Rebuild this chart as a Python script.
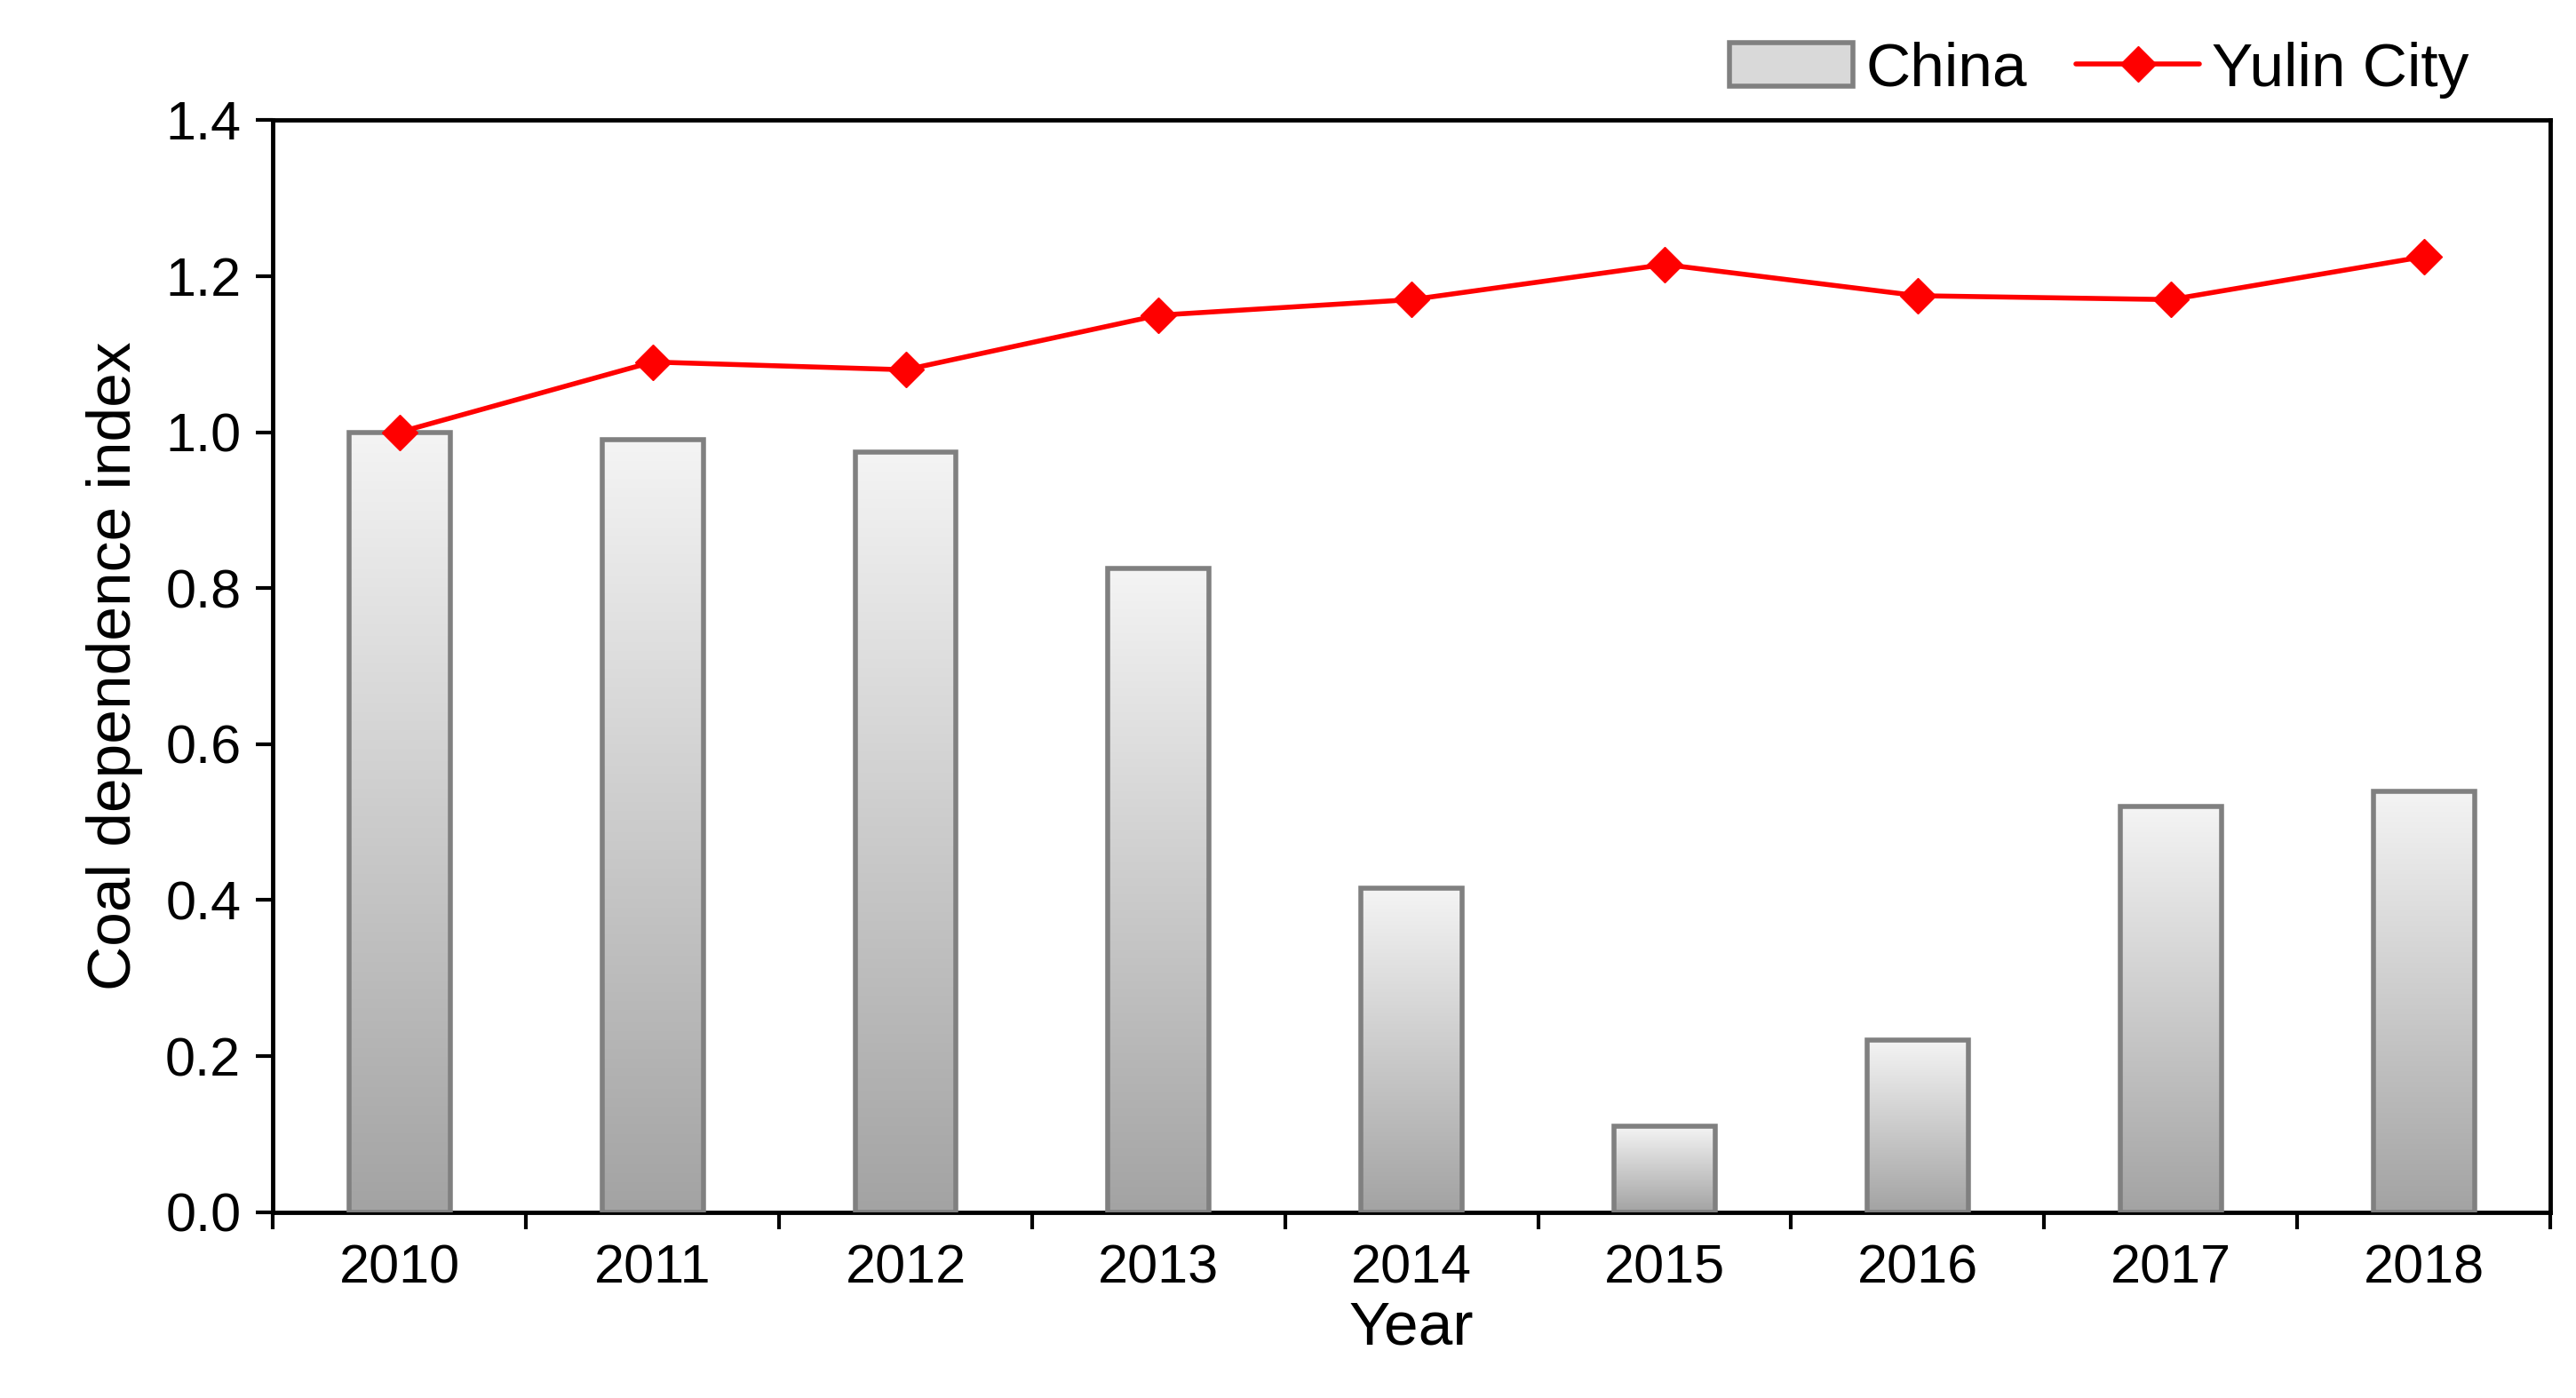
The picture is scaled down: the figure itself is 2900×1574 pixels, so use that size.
import numpy as np, pandas as pd, matplotlib
matplotlib.use("Agg")
import matplotlib.pyplot as plt, seaborn as sns
from matplotlib.patches import Patch
from matplotlib.lines import Line2D

years = ["2010","2011","2012","2013","2014","2015","2016","2017","2018"]
china = [1.0, 0.99, 0.975, 0.825, 0.415, 0.11, 0.22, 0.52, 0.54]
yulin = [1.0, 1.09, 1.08, 1.15, 1.17, 1.215, 1.175, 1.17, 1.225]

sns.set_style("white")
plt.rcParams['font.family'] = ['Liberation Sans', 'DejaVu Sans']
plt.rcParams['text.color'] = 'black'
plt.rcParams['axes.labelcolor'] = 'black'
plt.rcParams['xtick.color'] = 'black'
plt.rcParams['ytick.color'] = 'black'
fig = plt.figure(figsize=(29, 15.74), dpi=100)
ax = fig.add_axes([0.106, 0.133, 0.884, 0.781])
df = pd.DataFrame({"Year": years, "China": china, "Yulin": yulin})
sns.barplot(data=df, x="Year", y="China", ax=ax, width=0.4, color="#cccccc",
            edgecolor="#808080", linewidth=4, zorder=2)
grad = np.linspace(0, 1, 256).reshape(-1, 1)
cmap = matplotlib.colors.LinearSegmentedColormap.from_list("g", ["#a3a3a3", "#f4f4f4"])
for p in ax.patches:
    x0, y0, w, h = p.get_x(), p.get_y(), p.get_width(), p.get_height()
    im = ax.imshow(grad, cmap=cmap, extent=[x0, x0 + w, y0, y0 + h], origin="lower",
                   aspect="auto", zorder=2.5)
    im.set_clip_path(p)
    p.set_facecolor("none"); p.set_zorder(3)
ax.plot(range(len(years)), yulin, color="#ff0000", lw=4, marker="D", ms=20, zorder=5)
ax.set_xlim(-0.5, 8.5); ax.set_ylim(0, 1.4)
ax.set_yticks(np.arange(0, 1.41, 0.2))
ax.set_yticklabels([f"{v:.1f}" for v in np.arange(0, 1.41, 0.2)])
ax.set_xticks(np.arange(-0.5, 8.6, 1), minor=True)
ax.tick_params(axis="x", which="major", length=0, labelsize=44, pad=26)
ax.tick_params(axis="x", which="minor", length=14, width=3, direction="out", bottom=True)
ax.tick_params(axis="y", length=14, width=3, direction="out", left=True, labelsize=44, pad=12)
for s in ax.spines.values():
    s.set_linewidth(3.5); s.set_color("black")
ax.set_xlabel("Year", fontsize=50, labelpad=4)
ax.set_ylabel("Coal dependence index", fontsize=50, labelpad=18)
handles = [Patch(facecolor="#d9d9d9", edgecolor="#808080", linewidth=4),
           Line2D([], [], color="#ff0000", lw=4, marker="D", ms=20)]
fig.legend(handles, ["China", "Yulin City"], loc="upper right", bbox_to_anchor=(0.98, 1.01),
           ncol=2, frameon=False, fontsize=50, handlelength=2.0, columnspacing=0.8, handletextpad=0.2)
fig.savefig("out.png", dpi=100)
